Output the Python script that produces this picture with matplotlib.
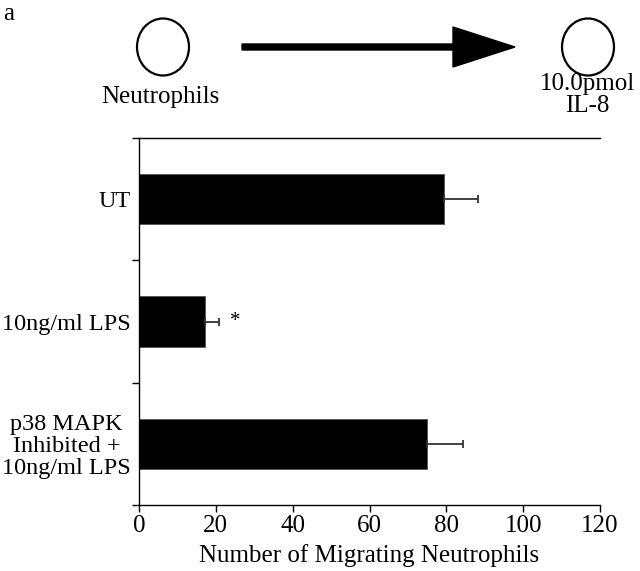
import numpy as np
import matplotlib
matplotlib.use('Agg')
import matplotlib.pyplot as plt
from matplotlib.patches import Ellipse, FancyArrow

# ---------------------------------- data -------------------------------------
groups = ['UT', '10ng/ml LPS', 'p38 MAPK\nInhibited +\n10ng/ml LPS']
means = [79.4, 17.2, 75.0]
sem = [8.8, 3.6, 9.3]
x_ticks = [0, 20, 40, 60, 80, 100, 120]

plt.rcParams['font.family'] = ['Liberation Serif', 'DejaVu Serif']
fs = 18

# ---------------------------------- plotting ---------------------------------
fig = plt.figure(figsize=(6.4, 5.71), dpi=100)
ax = fig.add_axes([139 / 640, 1 - 505 / 571, 461 / 640, 367 / 571])

y = np.arange(len(groups))
ax.barh(y, means, height=0.41, color='black', edgecolor='#555555', linewidth=0.6)
ax.errorbar(means, y, xerr=[np.zeros(len(sem)), sem], fmt='none',
            ecolor='#333333', elinewidth=1.3, capsize=3, capthick=1.3)
ax.text(means[1] + sem[1] + 4.3, y[1], '*', fontsize=15, ha='center', va='center')

ax.set_xlim(0, 120)
ax.set_ylim(2.5, -0.5)
ax.set_xticks(x_ticks)
ax.set_xticklabels([str(t) for t in x_ticks], fontsize=fs)
ax.set_yticks([-0.5, 0.5, 1.5, 2.5])
ax.set_yticklabels([])
ax.set_yticks(y, minor=True)
ax.set_yticklabels(groups, minor=True, fontsize=17.5, linespacing=1.05)
for lbl in ax.get_yticklabels(minor=True):
    lbl.set_multialignment('center')
ax.tick_params(axis='y', which='minor', length=0, pad=6)
ax.tick_params(axis='both', which='major', direction='out', length=5, width=1)
ax.tick_params(axis='x', pad=2)
ax.set_xlabel('Number of Migrating Neutrophils', fontsize=fs, labelpad=5)
ax.spines['right'].set_visible(False)
for s in ['left', 'top', 'bottom']:
    ax.spines[s].set_linewidth(1)

# diagram on top (pixel coordinates)
top = fig.add_axes([0, 0, 1, 1], zorder=-1)
top.set_xlim(0, 640)
top.set_ylim(571, 0)
top.axis('off')
top.add_patch(Ellipse((163, 47), 52, 57, fill=False, lw=1.6, ec='black'))
top.add_patch(Ellipse((588, 47), 52, 57, fill=False, lw=1.6, ec='black'))
top.add_patch(FancyArrow(242, 47, 273, 0, width=6, head_width=40, head_length=62,
                         length_includes_head=True, color='black'))
top.text(160, 97, 'Neutrophils', fontsize=fs, ha='center', va='center')
top.text(587, 95, '10.0pmol\nIL-8', fontsize=fs, ha='center', va='center', linespacing=1.0)
top.text(3, 14, 'a', fontsize=fs, ha='left', va='center')

fig.savefig('out.png', dpi=100)
